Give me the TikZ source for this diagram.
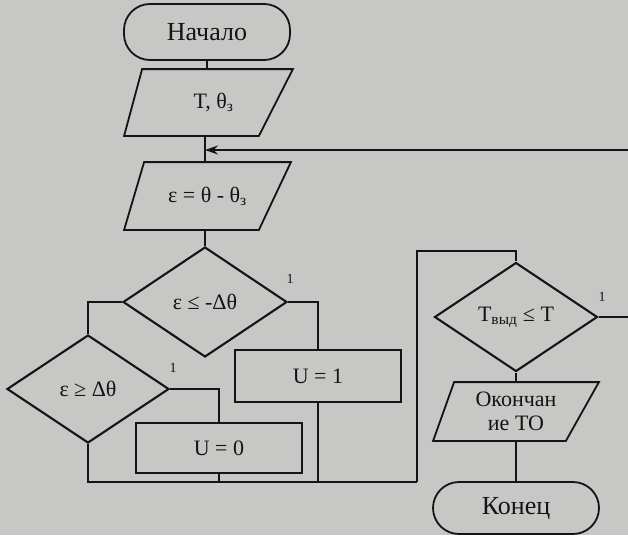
\documentclass[tikz,border=0pt]{standalone}
\usepackage{fontspec}
\setmainfont{Liberation Serif}
\usetikzlibrary{shapes.geometric,arrows.meta,calc}
\definecolor{bg}{RGB}{199,199,197}
\definecolor{ink}{RGB}{20,20,20}
\tikzset{
  base/.style={draw=ink, line width=1.8pt, text=ink, inner sep=0pt, align=center,
    font=\fontsize{22}{24}\selectfont},
  term/.style={base, rectangle, rounded corners=26pt, font=\fontsize{26}{28}\selectfont},
  proc/.style={base, rectangle, line width=1.6pt},
  dec/.style={base, diamond, line width=2.1pt},
  io/.style={base, rectangle, draw=none},
  ioline/.style={draw=ink, line width=1.8pt, line join=miter},
  conn/.style={draw=ink, line width=1.6pt},
  lab/.style={text=ink, inner sep=0pt, font=\fontsize{14}{16}\selectfont},
}
\begin{document}
\begin{tikzpicture}[x=1pt,y=-1pt]
\fill[bg] (0,0) rectangle (628,535);
\useasboundingbox (0,0) rectangle (628,535);
\clip (0,0) rectangle (628,535);

% nodes
\node[term, minimum width=166pt, minimum height=56pt] (start) at (207,32) {Начало};
\node[io, minimum width=167pt, minimum height=65pt] (in1) at (208.5,102.5) {\hspace*{10pt}T, θ\textsubscript{з}};
\node[io, minimum width=165pt, minimum height=66pt] (in2) at (207.5,196) {ε = θ - θ\textsubscript{з}};
\node[dec, minimum width=164pt, minimum height=110pt] (d1) at (205,302) {ε ≤ -Δθ};
\node[dec, minimum width=162pt, minimum height=108pt] (d2) at (88,389) {ε ≥ Δθ};
\node[proc, minimum width=166pt, minimum height=52pt] (u1) at (318,376) {U = 1};
\node[proc, minimum width=166pt, minimum height=50pt] (u0) at (219,448) {U = 0};
\node[dec, minimum width=163pt, minimum height=109pt] (d3) at (516,317) {T\textsubscript{выд} ≤ T};
\node[io, minimum width=164pt, minimum height=57pt] (out) at (516,411.5) {Окончан\\ие ТО};
\node[term, minimum width=166pt, minimum height=52pt] (end) at (516,508) {Конец};

% parallelogram outlines
\draw[ioline] (in1.south west) -- ($(in1.south east)+(-34,0)$) -- (in1.north east)
  -- ($(in1.north west)+(18,0)$) -- cycle;
\draw[ioline] (in2.south west) -- ($(in2.south east)+(-32,0)$) -- (in2.north east)
  -- ($(in2.north west)+(20,0)$) -- cycle;
\draw[ioline] (out.south west) -- ($(out.south east)+(-33,0)$) -- (out.north east)
  -- ($(out.north west)+(21,0)$) -- cycle;

% labels
\node[lab] (l1) at (290,279) {1};
\node[lab] (l2) at (173,368) {1};
\node[lab] (l3) at (602,297) {1};

% coordinates
\coordinate (merge) at (417,482);
\coordinate (up3) at (417,251);
\coordinate (rr1) at (645,317);
\coordinate (rr2) at (645,150);
\coordinate (fb) at (205,150);

% connectors
\draw[conn] (start.south) -- (in1.north -| start.south);
\draw[conn] (in1.south -| fb) -- (in2.north -| fb);
\draw[conn] (in2.south -| d1.north) -- (d1.north);
\draw[conn] (d1.west) -| (d2.north);
\draw[conn] (d1.east) -| (u1.north);
\draw[conn] (d2.east) -| (u0.north);
\draw[conn] (d2.south) |- (merge);
\draw[conn] (u0.south) -- (u0.south |- merge);
\draw[conn] (u1.south) -- (u1.south |- merge);
\draw[conn] (merge) -- (up3) -| (d3.north);
\draw[conn, -{Stealth[length=13pt,width=9pt]}] (d3.east) -- (rr1) -- (rr2) -- (fb);
\draw[conn] (d3.south) -- (out.north);
\draw[conn] (out.south) -- (end.north);
\end{tikzpicture}
\end{document}
